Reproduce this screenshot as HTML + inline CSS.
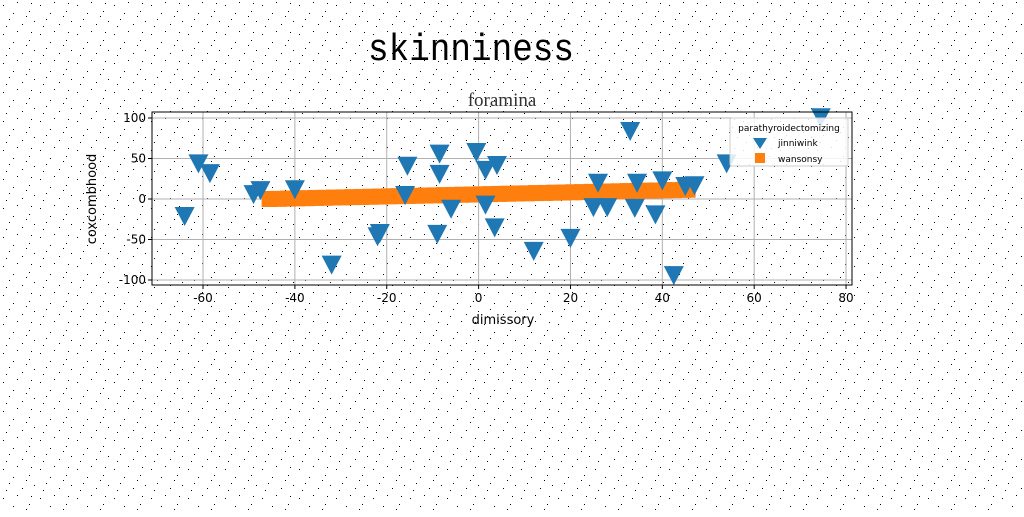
<!DOCTYPE html>
<html><head><meta charset="utf-8"><style>
body{margin:0;background:#fff}
svg text{font-family:"DejaVu Sans","Liberation Sans",sans-serif}
</style></head><body>
<svg width="1024" height="512" viewBox="0 0 1024 512">
<defs>
<pattern id="speck" width="37" height="29" patternUnits="userSpaceOnUse">
<rect x="3" y="5" width="1" height="1" fill="#000"/><rect x="17" y="2" width="1" height="1" fill="#000"/>
<rect x="29" y="11" width="1" height="1" fill="#000"/><rect x="9" y="19" width="1" height="1" fill="#000"/>
<rect x="22" y="24" width="1" height="1" fill="#000"/><rect x="34" y="21" width="1" height="1" fill="#000"/>
<rect x="13" y="13" width="1" height="1" fill="#000"/><rect x="26" y="16" width="1" height="1" fill="#000"/>
<rect x="6" y="26" width="1" height="1" fill="#000"/><rect x="31" y="3" width="1" height="1" fill="#000"/>
</pattern>
</defs>
<rect width="1024" height="512" fill="url(#speck)"/>
<text x="368" y="60" font-size="38" textLength="206" lengthAdjust="spacingAndGlyphs" style="font-family:'Liberation Mono',monospace">skinniness</text>
<text x="502" y="106" font-size="19" text-anchor="middle" fill="#333" style="font-family:'Liberation Serif',serif">foramina</text>
<g id="plot"></g>
<text x="503" y="324" font-size="13" text-anchor="middle">dimissory</text>
<text x="96" y="199" font-size="13" text-anchor="middle" transform="rotate(-90 96 199)">coxcombhood</text>
</svg>
<script>
const xTicks=[-60,-40,-20,0,20,40,60,80];
const yTicks=[-100,-50,0,50,100];
const jinniX=[-64,-61,-58.5,-49,-47.5,-40,-32,-22,-21.5,-15.5,-8.5,-8.5,-9,-6,-0.5,1.5,1.5,4,3.5,12,20,26,25,28,33,34.5,34,38.5,40,42.5,45,47,54,74.5,-16];
const jinniY=[-21,44,32,6,11,12,-81,-46,-42,41,56,31,-43,-12,58,-7,36,42,-35,-64,-48,20,-10,-10,84,20,-11,-19,23,-94,16,17,44,101,5];
const wanX=[-45.5,-43.5,-41.5,-39.5,-37.5,-35.5,-33.5,-31.5,-29.5,-27.5,-25.5,-23.5,-21.5,-19.5,-17.5,-15.5,-13.5,-11.5,-9.5,-7.5,-5.5,-3.5,-1.5,0.5,2.5,4.5,6.5,8.5,10.5,12.5,14.5,16.5,18.5,20.5,22.5,24.5,26.5,28.5,30.5,32.5,34.5,36.5,38.5,40.5,42.5,44.5,45.5];
const wanY=[0,0.2,0.5,0.8,1,1.3,1.5,1.8,2,2.3,2.5,2.8,3,3.3,3.5,3.8,4,4.3,4.5,4.8,5,5.3,5.5,5.8,6,6.3,6.5,6.8,7,7.3,7.5,7.8,8,8.3,8.5,8.8,9,9.3,9.5,9.8,10,10.3,10.5,10.8,11,11.3,11.5];
const L=152,R=852,T=112,B=285;
const sx=v=>478.6+v*4.593, sy=v=>199-v*0.81;
const NS='http://www.w3.org/2000/svg', g=document.getElementById('plot');
function mk(t,a,p){const e=document.createElementNS(NS,t);for(const k in a)e.setAttribute(k,a[k]);(p||g).appendChild(e);return e;}
xTicks.forEach(v=>{const x=sx(v);
 const l=mk('line',{x1:x,x2:x,y1:T,y2:B,stroke:'#b0b0b0','stroke-width':1});
 
 mk('line',{x1:x,x2:x,y1:B,y2:B+4,stroke:'#000'});
 const t=mk('text',{x:x,y:B+17,'font-size':12,'text-anchor':'middle'});t.textContent=v;
 });
yTicks.forEach(v=>{const y=sy(v);
 const l=mk('line',{x1:L,x2:R,y1:y,y2:y,stroke:'#b0b0b0','stroke-width':1});
 
 mk('line',{x1:L-4,x2:L,y1:y,y2:y,stroke:'#000'});
 const t=mk('text',{x:L-6,y:y+4,'font-size':12,'text-anchor':'end'});t.textContent=v;
 });
wanX.forEach((v,i)=>{const x=sx(v),y=sy(wanY[i]);
 const r=mk('rect',{x:x-8,y:y-8,width:16,height:16,fill:'#ff7f0e'});
 });
jinniX.forEach((v,i)=>{const x=sx(v),y=sy(jinniY[i]);
 const p=mk('polygon',{points:`${x-10},${y-9} ${x+10},${y-9} ${x},${y+10}`,fill:'#1f77b4'});
 });
const f=mk('rect',{x:L,y:T,width:R-L,height:B-T,fill:'none',stroke:'#000','stroke-width':1});

const lg=mk('g',{});

mk('rect',{x:730,y:118,width:118,height:48,fill:'#fff','fill-opacity':0.85,stroke:'#ccc',rx:2},lg);
const lt=mk('text',{x:789,y:131,'font-size':9,'text-anchor':'middle'},lg);lt.textContent='parathyroidectomizing';
mk('polygon',{points:'753,138 767,138 760,149',fill:'#1f77b4'},lg);
const l1=mk('text',{x:778,y:146,'font-size':9},lg);l1.textContent='jinniwink';

mk('rect',{x:755,y:153,width:10,height:10,fill:'#ff7f0e'},lg);
const l2=mk('text',{x:778,y:162,'font-size':9},lg);l2.textContent='wansonsy';

</script>
</body></html>
